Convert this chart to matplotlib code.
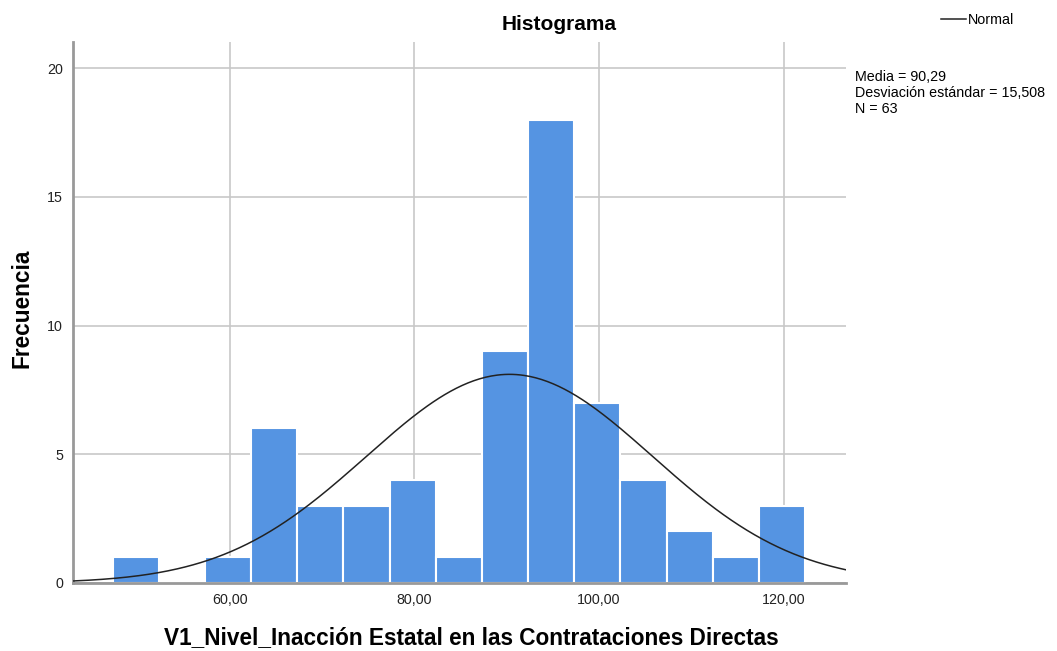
import matplotlib.pyplot as plt
import numpy as np

plt.rcParams['font.family'] = ['Liberation Sans', 'DejaVu Sans']

# histogram data
bin_start = 47.3
bin_width = 5.0
counts = [1, 0, 1, 6, 3, 3, 4, 1, 9, 18, 7, 4, 2, 1, 3]

# summary stats shown on the chart
media = 90.29
desv = 15.508
n = 63

xticks = [60, 80, 100, 120]
xtick_labels = ['60,00', '80,00', '100,00', '120,00']
yticks = [0, 5, 10, 15, 20]

fig = plt.figure(figsize=(10.57, 6.51), dpi=100)
ax = fig.add_axes([0.069, 0.1045, 0.731, 0.8305])

edges = bin_start + bin_width * np.arange(len(counts))
ax.bar(edges, counts, width=bin_width, align='edge', color='#5594e2',
       edgecolor='white', linewidth=1.5, zorder=2)

# normal curve from the stated mean / sd / N
xs = np.linspace(43.0, 126.7, 400)
ys = n * bin_width / (desv * np.sqrt(2 * np.pi)) * np.exp(-0.5 * ((xs - media) / desv) ** 2)
line, = ax.plot(xs, ys, color='#222222', linewidth=1.1, zorder=3)

ax.set_xlim(43.0, 126.7)
ax.set_ylim(0, 21)
ax.set_xticks(xticks)
ax.set_xticklabels(xtick_labels)
ax.set_yticks(yticks)
ax.tick_params(length=0, labelsize=10.3, colors='#222222', pad=7)
ax.grid(True, color='#c8c8c8', linewidth=1.2, zorder=0)
ax.set_axisbelow(True)
for s in ['top', 'right']:
    ax.spines[s].set_visible(False)
for s in ['left', 'bottom']:
    ax.spines[s].set_color('#999999')
    ax.spines[s].set_linewidth(2)

fig.text(0.529, 0.954, 'Histograma', fontsize=15, fontweight='bold',
         ha='center', va='baseline')
ax.set_xlabel('V1_Nivel_Inacción Estatal en las Contrataciones Directas',
              fontsize=16.3, fontweight='bold')
ax.xaxis.set_label_coords(0.515, -0.079)
ax.set_ylabel('Frecuencia', fontsize=16.3, fontweight='bold')
ax.yaxis.set_label_coords(-0.051, 0.508)

fig.legend([line], ['Normal'], loc='center left', bbox_to_anchor=(0.890, 0.969),
           frameon=False, fontsize=10.3, handlelength=1.75, handletextpad=0.15,
           borderpad=0, borderaxespad=0)

fig.text(0.809, 0.893, 'Media = 90,29\nDesviación estándar = 15,508\nN = 63',
         fontsize=10.3, va='top', ha='left', linespacing=1.2)

fig.savefig('out.png', dpi=100)
